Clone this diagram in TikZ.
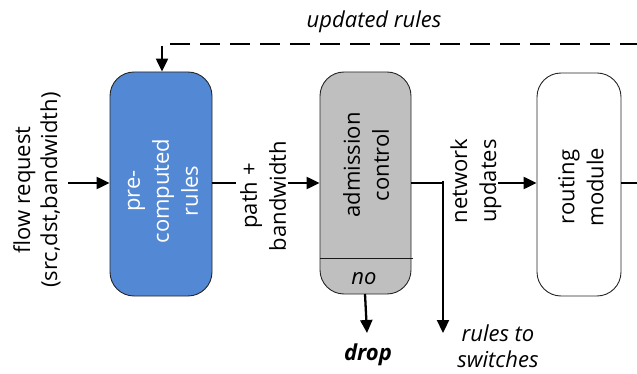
\documentclass[tikz,border=0pt]{standalone}
\usepackage{fontspec}
\setmainfont{Open Sans}
\usetikzlibrary{arrows.meta}
\definecolor{boxblue}{RGB}{83,136,212}
\definecolor{boxgray}{RGB}{191,191,191}
\begin{document}
\begin{tikzpicture}[x=1pt,y=-1pt,
  blk/.style={draw=black!85,line width=0.9pt,rounded corners=24pt,inner sep=0pt},
  lbl/.style={rotate=90,align=center,font=\fontsize{22}{29}\selectfont,inner sep=0pt},
  itl/.style={align=center,font=\fontsize{22}{27}\selectfont\itshape,inner sep=0pt},
  arr/.style={line width=2.3pt,-{Triangle[length=13pt,width=12pt]}},
  ln/.style={line width=2.3pt}]
\useasboundingbox (0,0) rectangle (637,374);
% boxes
\node[blk,fill=boxblue,minimum width=102pt,minimum height=224pt] (pre) at (161,184) {};
\node[blk,fill=boxgray,minimum width=91pt,minimum height=222pt] (adm) at (365.5,183) {};
\node[blk,fill=white,minimum width=84pt,minimum height=223pt] (rout) at (579,184.5) {};
% box texts
\node[lbl,text=white] (pretxt) at (163,191) {pre-\\computed\\rules};
\node[lbl] (admtxt) at (366,165) {admission\\control};
\node[lbl] (routtxt) at (581,187) {routing\\module};
\draw[line width=0.9pt,black!90] (320,258) -- (413,258);
\node[itl] (no) at (364,279) {no};
% side labels
\node[lbl,font=\fontsize{22}{27}\selectfont] (flow) at (37,190) {flow request\\(src,dst,bandwidth)};
\node[lbl] (path) at (263,196) {path +\\bandwidth};
\node[lbl] (net) at (476,181) {network\\updates};
\node[itl] (upd) at (374,22) {updated rules};
\node[itl,font=\fontsize{22}{27}\selectfont\itshape\bfseries] (drop) at (368,355) {drop};
\node[itl,font=\fontsize{22}{26}\selectfont\itshape] (sw) at (498,346) {rules to\\switches};
% coordinates
\coordinate (fin) at (68,183);
\coordinate (pout) at (236,183);
\coordinate (ain) at (288,183);
\coordinate (aout) at (443,183);
\coordinate (sw1) at (443,333);
\coordinate (rin) at (498,183);
\coordinate (rout2) at (637,183);
\coordinate (dtop) at (365,294);
\coordinate (dbot) at (367,333);
\coordinate (d1) at (637,44);
\coordinate (d2) at (162,44);
% connectors
\draw[arr] (fin) -- (pre.west |- fin);
\draw[ln] (pre.east |- pout) -- (pout);
\draw[arr] (ain) -- (adm.west |- ain);
\draw[ln] (adm.east |- aout) -- (aout);
\draw[arr] (aout |- 0,181) -- (sw1);
\draw[arr] (rin) -- (rout.west |- rin);
\draw[ln] (rout.east |- rout2) -- (rout2);
\draw[arr] (dtop) -- (dbot);
\draw[arr,dash pattern=on 20pt off 10pt,dash phase=3pt] (d1) -- (d2) -- (d2 |- pre.north);
\end{tikzpicture}
\end{document}
